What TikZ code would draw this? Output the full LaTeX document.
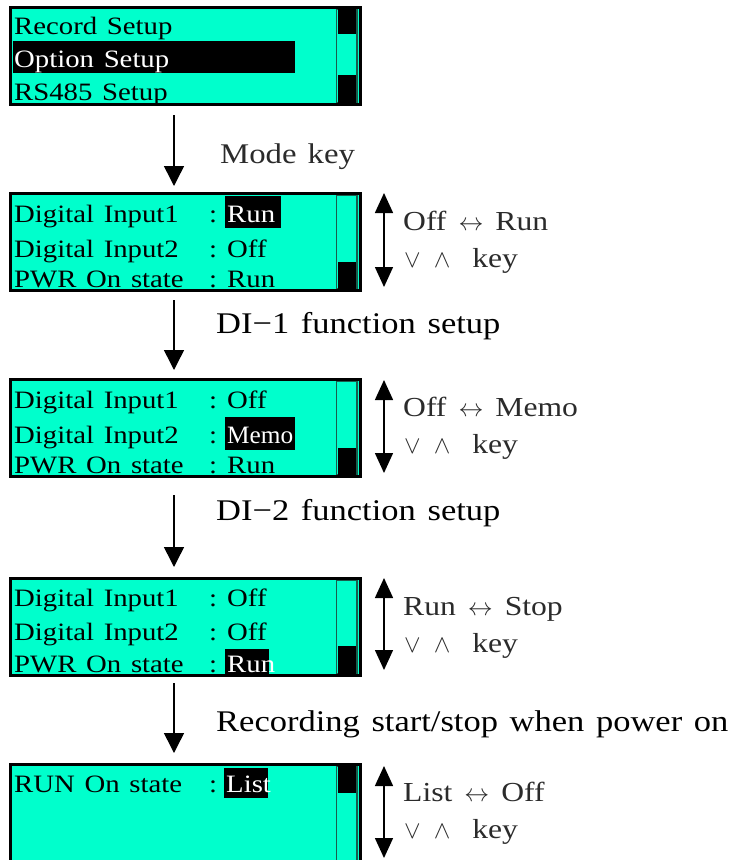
\documentclass[tikz,border=0pt]{standalone}
\usepackage{fontspec}
\setmainfont[FakeStretch=1.15,WordSpace=1.35]{Liberation Serif}
\usetikzlibrary{arrows.meta}
\definecolor{lcd}{HTML}{00FFCC}
\definecolor{sbline}{HTML}{1A5C4C}
\definecolor{lbl}{HTML}{2B2B2B}
\begin{document}
\begin{tikzpicture}[x=1pt,y=-1pt,
  scr/.style={draw=black,line width=3pt,fill=lcd,anchor=north west,outer sep=0pt,inner sep=0pt,minimum width=350pt},
  frame/.style={draw=black,line width=3pt},
  sb/.style={draw=sbline,line width=1.2pt},
  row/.style={anchor=base west,inner sep=0pt,font=\fontsize{25}{25}\selectfont},
  hrow/.style={row,text=white},
  lab/.style={anchor=base west,inner sep=0pt,font=\fontsize{30}{30}\selectfont},
  rlab/.style={anchor=base west,inner sep=0pt,text=lbl,font=\fontsize{27.5}{27.5}\selectfont},
  down/.style={line width=1.5pt,-{Triangle[width=20pt,length=20pt]}},
  dbl/.style={line width=1.5pt,{Triangle[width=18pt,length=20pt]}-{Triangle[width=18pt,length=20pt]}}]
\useasboundingbox (0,0) rectangle (733,860);
\clip (0,0) rectangle (733,860);
\newcommand{\vwkey}{{\fontsize{30}{30}\selectfont$\vee$\hspace{13pt}$\wedge$}\hspace{22pt}key}
\newcommand{\lr}{\hspace{12pt}{\fontsize{34}{34}\selectfont$\leftrightarrow$}\hspace{12pt}}

% ---------- screen 1
\node[scr,minimum height=97pt] (s1) at (10.5,7.5) {};
\fill[black] (13,41) rectangle (295,73);
\node[row] (s1r1) at (14,34) {Record Setup};
\node[hrow] (s1r2) at (14,67) {Option Setup};
\node[row] (s1r3) at (14,100) {RS485 Setup};
\draw[sb] (336.5,9) rectangle (357,103);
\fill[black] (338,9) rectangle (356,34);
\fill[black] (338,75) rectangle (356,103);
\draw[frame] (s1.north west) rectangle (s1.south east);

% ---------- screen 2
\node[scr,minimum height=97pt] (s2) at (10.5,193.5) {};
\fill[black] (225,196) rectangle (281,228);
\node[row] (s2r1) at (14,222) {Digital Input1};
\node[row] (s2c1) at (209,222) {:};
\node[hrow] (s2v1) at (227,222) {Run};
\node[row] (s2r2) at (14,257) {Digital Input2};
\node[row] (s2c2) at (209,257) {:};
\node[row] (s2v2) at (227,257) {Off};
\node[row] (s2r3) at (14,287) {PWR On state};
\node[row] (s2c3) at (209,287) {:};
\node[row] (s2v3) at (227,287) {Run};
\draw[sb] (336.5,195) rectangle (357,289);
\fill[black] (338,262) rectangle (356,289);
\draw[frame] (s2.north west) rectangle (s2.south east);

% ---------- screen 3
\node[scr,minimum height=97pt] (s3) at (10.5,379.5) {};
\fill[black] (225,417) rectangle (295,450);
\node[row] (s3r1) at (14,408) {Digital Input1};
\node[row] (s3c1) at (209,408) {:};
\node[row] (s3v1) at (227,408) {Off};
\node[row] (s3r2) at (14,443) {Digital Input2};
\node[row] (s3c2) at (209,443) {:};
\node[hrow] (s3v2) at (227,443) {\scalebox{0.88}[1]{Memo}};
\node[row] (s3r3) at (14,473) {PWR On state};
\node[row] (s3c3) at (209,473) {:};
\node[row] (s3v3) at (227,473) {Run};
\draw[sb] (336.5,381) rectangle (357,475);
\fill[black] (338,448) rectangle (356,475);
\draw[frame] (s3.north west) rectangle (s3.south east);

% ---------- screen 4
\node[scr,minimum height=97pt] (s4) at (10.5,578.5) {};
\fill[black] (225,649) rectangle (269,675);
\node[row] (s4r1) at (14,606) {Digital Input1};
\node[row] (s4c1) at (209,606) {:};
\node[row] (s4v1) at (227,606) {Off};
\node[row] (s4r2) at (14,640) {Digital Input2};
\node[row] (s4c2) at (209,640) {:};
\node[row] (s4v2) at (227,640) {Off};
\node[row] (s4r3) at (14,672) {PWR On state};
\node[row] (s4c3) at (209,672) {:};
\node[hrow] (s4v3) at (227,672) {Run};
\draw[sb] (336.5,580) rectangle (357,674);
\fill[black] (338,646) rectangle (356,674);
\draw[frame] (s4.north west) rectangle (s4.south east);

% ---------- screen 5
\node[scr,minimum height=140pt] (s5) at (10.5,764.5) {};
\fill[black] (224,768) rectangle (268,798);
\node[row] (s5r1) at (14,792) {RUN On state};
\node[row] (s5c1) at (209,792) {:};
\node[hrow] (s5v1) at (226,792) {List};
\draw[sb] (336.5,766) rectangle (357,903);
\fill[black] (338,766) rectangle (356,793);
\draw[frame] (s5.north west) rectangle (s5.south east);

% ---------- down arrows
\coordinate (a1s) at (174,115); \coordinate (a1e) at (174,186);
\coordinate (a2s) at (174,300); \coordinate (a2e) at (174,370);
\coordinate (a3s) at (174,495); \coordinate (a3e) at (174,567);
\coordinate (a4s) at (174,683); \coordinate (a4e) at (174,753);
\draw[down] (a1s) -- (a1e);
\draw[down] (a2s) -- (a2e);
\draw[down] (a3s) -- (a3e);
\draw[down] (a4s) -- (a4e);
\node[lab,text=lbl,font=\fontsize{28.5}{28.5}\selectfont] (l1) at (220,163) {Mode key};
\node[lab] (l2) at (216,333) {DI−1 function setup};
\node[lab] (l3) at (216,520) {DI−2 function setup};
\node[lab] (l4) at (216,731) {Recording start/stop when power on};

% ---------- up/down key arrows
\coordinate (d2t) at (384,193); \coordinate (d2b) at (384,287);
\coordinate (d3t) at (384,380); \coordinate (d3b) at (384,473);
\coordinate (d4t) at (384,578); \coordinate (d4b) at (384,670);
\coordinate (d5t) at (384,766); \coordinate (d5b) at (384,858);
\draw[dbl] (d2t) -- (d2b);
\draw[dbl] (d3t) -- (d3b);
\draw[dbl] (d4t) -- (d4b);
\draw[dbl] (d5t) -- (d5b);
\node[rlab] (r2a) at (403,230) {Off\lr Run};
\node[rlab] (r2b) at (404,267) {\vwkey};
\node[rlab] (r3a) at (403,416) {Off\lr Memo};
\node[rlab] (r3b) at (404,453) {\vwkey};
\node[rlab] (r4a) at (403,615) {Run\lr Stop};
\node[rlab] (r4b) at (404,652) {\vwkey};
\node[rlab] (r5a) at (403,801) {List\lr Off};
\node[rlab] (r5b) at (404,838) {\vwkey};
\end{tikzpicture}
\end{document}
